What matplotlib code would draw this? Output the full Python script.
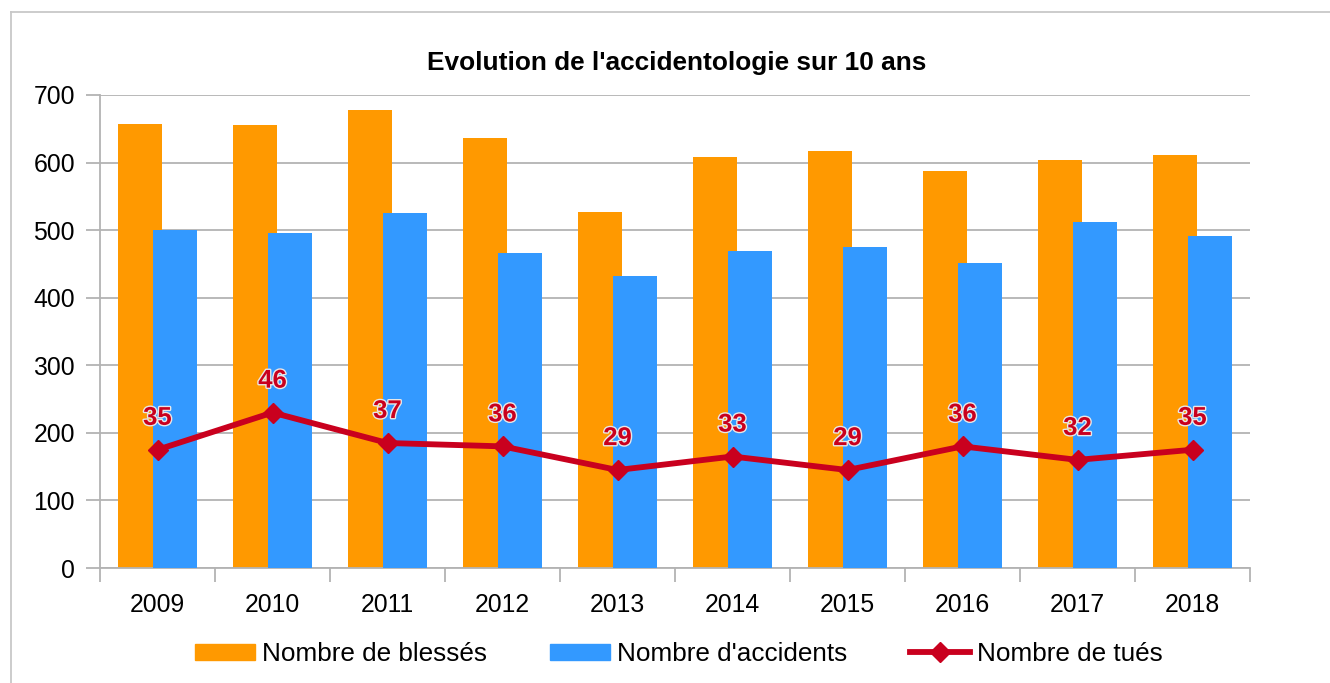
import matplotlib
matplotlib.use("Agg")
import matplotlib.pyplot as plt
import matplotlib.patheffects as pe
from matplotlib.lines import Line2D
import numpy as np

years = ["2009", "2010", "2011", "2012", "2013", "2014", "2015", "2016", "2017", "2018"]
blesses = [657, 655, 678, 636, 527, 608, 617, 587, 604, 611]
accidents = [500, 496, 525, 466, 432, 469, 475, 451, 512, 491]
tues = [35, 46, 37, 36, 29, 33, 29, 36, 32, 35]
tues_scale = 5  # deaths are drawn at 5x on the same axis

plt.rcParams['font.family'] = ['Liberation Sans', 'DejaVu Sans']

c_orange = '#ff9900'
c_blue = '#3399ff'
c_red = '#c9001e'
c_grid = '#b3b3b3'

fig = plt.figure(figsize=(13.3, 6.83), dpi=100)
ax = fig.add_axes([100/1330, 1 - 568/683, 1150/1330, 473/683])

x = np.arange(len(years))
w = 0.39
off = 0.152
ax.bar(x - off, blesses, width=w, color=c_orange, zorder=2, label='Nombre de blessés')
ax.bar(x + off, accidents, width=w, color=c_blue, zorder=3, label="Nombre d'accidents")
tv = np.array(tues) * tues_scale
ax.plot(x, tv, color=c_red, lw=4.2, marker='D', ms=10, zorder=4, label='Nombre de tués')
for xi, yi, t in zip(x, tv, tues):
    ax.annotate(str(t), (xi, yi), xytext=(0, 23), textcoords='offset points',
                ha='center', va='center', color=c_red, fontsize=18.5, fontweight='bold',
                path_effects=[pe.withStroke(linewidth=2, foreground='#e8e8e8')], zorder=5)

ax.set_xlim(-0.5, len(years) - 0.5)
ax.set_ylim(0, 700)
ax.set_yticks(range(0, 701, 100))
ax.yaxis.grid(True, color=c_grid, lw=1.3, zorder=0)
ax.set_axisbelow(True)
ax.set_xticks(x)
ax.set_xticklabels(years)
ax.set_xticks(np.arange(-0.5, len(years), 1.0), minor=True)
ax.tick_params(axis='x', which='major', length=0, pad=18, labelsize=17.8, labelcolor='black')
ax.tick_params(axis='x', which='minor', length=10, color=c_grid, width=1.3)
ax.tick_params(axis='y', length=10, color=c_grid, width=1.3, pad=8, labelsize=17.8)
for s in ['top', 'right']:
    ax.spines[s].set_visible(False)
for s in ['left', 'bottom']:
    ax.spines[s].set_color(c_grid)
    ax.spines[s].set_linewidth(1.3)

fig.text(677/1330, 1 - 63/683, "Evolution de l'accidentologie sur 10 ans", ha='center', va='center',
         fontsize=18.9, fontweight='bold')

handles = [plt.Rectangle((0, 0), 1, 1, color=c_orange),
           plt.Rectangle((0, 0), 1, 1, color=c_blue),
           Line2D([0], [0], color=c_red, lw=4.2, marker='D', ms=10)]
labels = ['Nombre de blessés', "Nombre d'accidents", 'Nombre de tués']
fig.legend(handles, labels, loc='center', bbox_to_anchor=(679/1330, 1 - 654/683), ncol=3,
           frameon=False, fontsize=18.8, handlelength=2.3, handleheight=0.58,
           handletextpad=0.27, columnspacing=2.4)

# outer chart border (top and left visible)
fig.add_artist(Line2D([11/1330, 11/1330], [0, 1 - 12/683], color='#c8c8c8', lw=1.3, transform=fig.transFigure))
fig.add_artist(Line2D([11/1330, 1], [1 - 12/683, 1 - 12/683], color='#c8c8c8', lw=1.3, transform=fig.transFigure))

fig.savefig('out.png', dpi=100)
